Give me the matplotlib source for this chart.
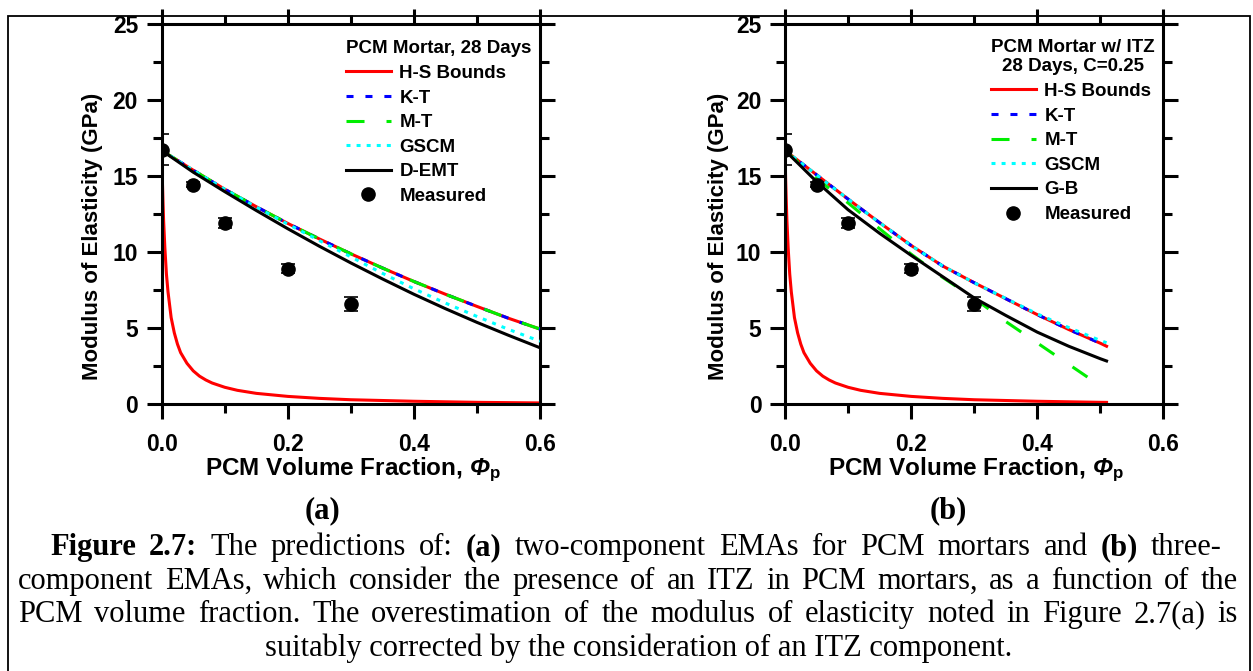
import matplotlib
matplotlib.use("Agg")
import matplotlib.pyplot as plt
from matplotlib.patches import Rectangle
from matplotlib.ticker import FormatStrFormatter
import matplotlib.transforms as mtransforms

# ---- data ----
phi = [0.0, 0.05, 0.10, 0.15, 0.20, 0.25, 0.30, 0.35, 0.40, 0.45, 0.50, 0.55, 0.60]
a_upper = [16.7, 15.4, 14.15, 13.0, 11.9, 10.88, 9.9, 8.97, 8.08, 7.24, 6.44, 5.66, 4.95]   # H-S upper, K-T, M-T
a_gscm = [16.7, 15.4, 14.15, 12.98, 11.85, 10.77, 9.7, 8.62, 7.6, 6.66, 5.78, 4.93, 4.15]
a_demt = [16.7, 15.27, 13.99, 12.75, 11.55, 10.40, 9.30, 8.25, 7.24, 6.29, 5.39, 4.54, 3.72]

phi_b = [0.0, 0.05, 0.10, 0.15, 0.20, 0.25, 0.30, 0.35, 0.40, 0.45, 0.50, 0.51]
b_upper = [16.7, 15.1, 13.5, 11.95, 10.45, 9.1, 8.0, 6.95, 5.9, 4.92, 4.02, 3.82]   # H-S upper, K-T
b_gscm = [16.7, 15.1, 13.5, 11.95, 10.45, 9.1, 8.0, 6.97, 5.95, 5.05, 4.2, 4.05]
b_gb = [16.7, 14.65, 12.8, 11.25, 9.8, 8.4, 7.0, 5.85, 4.75, 3.82, 3.0, 2.85]
phi_mt = [0.0, 0.05, 0.10, 0.15, 0.20, 0.25, 0.30, 0.35, 0.40, 0.45, 0.49]
b_mt = [16.7, 14.85, 13.25, 11.55, 9.88, 8.35, 6.97, 5.45, 4.04, 2.63, 1.5]

phi_hs = [0.0, 0.001, 0.002, 0.003, 0.005, 0.0075, 0.01, 0.015, 0.02, 0.025, 0.03, 0.04,
          0.05, 0.06, 0.07, 0.08, 0.10, 0.12, 0.15, 0.20, 0.25, 0.30, 0.40, 0.50, 0.51, 0.60]
hs_lower = [16.7, 14.83, 13.4, 12.12, 10.3, 8.57, 7.4, 5.7, 4.7, 3.96, 3.4, 2.7,
            2.2, 1.85, 1.6, 1.4, 1.12, 0.92, 0.72, 0.52, 0.39, 0.3, 0.2, 0.13, 0.125, 0.09]

meas_phi = [0.0, 0.05, 0.10, 0.20, 0.30]
meas_E = [16.75, 14.45, 11.95, 8.92, 6.62]
meas_err = [1.02, 0.15, 0.32, 0.3, 0.45]

caption = [
    [('Figure', 'bold'), ('2.7:', 'bold'), ('The', 'normal'), ('predictions', 'normal'),
     ('of:', 'normal'), ('(a)', 'bold'), ('two-component', 'normal'), ('EMAs', 'normal'),
     ('for', 'normal'), ('PCM', 'normal'), ('mortars', 'normal'), ('and', 'normal'),
     ('(b)', 'bold'), ('three-', 'normal')],
    'component EMAs, which consider the presence of an ITZ in PCM mortars, as a function of the',
    'PCM volume fraction. The overestimation of the modulus of elasticity noted in Figure 2.7(a) is',
    'suitably corrected by the consideration of an ITZ component.',
]

plt.rcParams['mathtext.fontset'] = 'custom'
plt.rcParams['mathtext.rm'] = 'Liberation Sans:bold:italic'
plt.rcParams['mathtext.it'] = 'Liberation Sans:bold:italic'
plt.rcParams['mathtext.sf'] = 'Liberation Sans:bold'
plt.rcParams['font.family'] = 'Liberation Sans'

W, H = 1253, 671
fig = plt.figure(figsize=(W / 100, H / 100), dpi=100)

ax_a = fig.add_axes([161.7 / W, 1 - 404.3 / H, 378.3 / W, 380 / H])
ax_b = fig.add_axes([785 / W, 1 - 404.3 / H, 378.3 / W, 380 / H])

LW = 2.2
KT = (0, (2.3, 3.9))
MT = (0, (5.9, 7.2))
GS = (0, (1.3, 2.0))

def style_axes(ax, ylab_x):
    ax.set_xlim(0, 0.6)
    ax.set_ylim(0, 25)
    ax.set_xticks([0.0, 0.2, 0.4, 0.6])
    ax.set_xticks([0.1, 0.3, 0.5], minor=True)
    ax.set_yticks([0, 5, 10, 15, 20, 25])
    ax.set_yticks([2.5, 7.5, 12.5, 17.5, 22.5], minor=True)
    ax.xaxis.set_major_formatter(FormatStrFormatter('%.1f'))
    ax.tick_params(which='both', direction='out', top=True, right=True, width=LW)
    ax.tick_params(which='major', length=11)
    ax.tick_params(which='minor', length=6.5)
    ax.tick_params(axis='x', which='major', pad=10, labelsize=16.5)
    ax.tick_params(axis='y', which='major', pad=6, labelsize=16.5)
    for lbl in ax.get_xticklabels() + ax.get_yticklabels():
        lbl.set_fontweight('bold')
    for sp in ax.spines.values():
        sp.set_linewidth(LW)
    ax.set_xlabel(r'PCM Volume Fraction, $\Phi_\mathsf{p}$', fontsize=17.5, fontweight='bold')
    ax.set_ylabel('Modulus of Elasticity (GPa)', fontsize=16, fontweight='bold')
    ax.xaxis.label.set_va('center')
    ax.yaxis.label.set_va('center')
    ax.xaxis.set_label_coords(0.505, -0.173)
    ax.yaxis.set_label_coords(ylab_x, 0.442)

def measured(ax):
    ax.errorbar(meas_phi, meas_E, yerr=meas_err, fmt='none', ecolor='black',
                elinewidth=1.2, capsize=4.8, capthick=1.2, zorder=7)
    ax.plot(meas_phi, meas_E, 'o', color='black', markersize=9.5, zorder=8,
            label='Measured')

leg_prop = {'family': 'Liberation Sans', 'weight': 'bold', 'size': 13.5}

# ---- (a) ----
ax = ax_a
ax.plot(phi_hs, hs_lower, color='red', lw=LW, zorder=2, label='H-S Bounds')
ax.plot(phi, a_upper, color='red', lw=LW, zorder=2)
ax.plot(phi, a_upper, color='blue', lw=LW, ls=KT, zorder=3, label='K-T')
ax.plot(phi, a_upper, color='#00ee00', lw=LW, ls=MT, zorder=4, label='M-T')
ax.plot(phi, a_gscm, color='cyan', lw=LW, ls=GS, zorder=5, label='GSCM')
ax.plot(phi, a_demt, color='black', lw=LW, zorder=6, label='D-EMT')
measured(ax)
style_axes(ax, -0.182)
ax.legend(loc='upper right', bbox_to_anchor=(0.977, 0.958), frameon=False,
          prop=leg_prop, title='PCM Mortar, 28 Days', title_fontproperties=leg_prop,
          handlelength=2.4, handletextpad=0.45, labelspacing=0.4, borderpad=0,
          borderaxespad=0, numpoints=1, alignment='left')

# ---- (b) ----
ax = ax_b
ax.plot(phi_hs[:-1], hs_lower[:-1], color='red', lw=LW, zorder=2, label='H-S Bounds')
ax.plot(phi_b, b_upper, color='red', lw=LW, zorder=2)
ax.plot(phi_b, b_upper, color='blue', lw=LW, ls=KT, zorder=3, label='K-T')
ax.plot(phi_mt, b_mt, color='#00ee00', lw=LW, ls=MT, zorder=4, label='M-T')
ax.plot(phi_b, b_gscm, color='cyan', lw=LW, ls=GS, zorder=5, label='GSCM')
ax.plot(phi_b, b_gb, color='black', lw=LW, zorder=6, label='G-B')
measured(ax)
style_axes(ax, -0.177)
leg = ax.legend(loc='upper right', bbox_to_anchor=(0.977, 0.962), frameon=False,
                prop=leg_prop, title='PCM Mortar w/ ITZ\n28 Days, C=0.25',
                title_fontproperties=leg_prop,
                handlelength=2.4, handletextpad=0.45, labelspacing=0.4, borderpad=0,
                borderaxespad=0, numpoints=1, alignment='left')
leg.get_title().set_multialignment('center')

# ---- panel letters, caption and frame ----
px = mtransforms.IdentityTransform()
serif = 'Liberation Serif'
CAP = 22
fig.text(322, H - 518, '(a)', transform=px, ha='center', va='baseline',
         family=serif, fontweight='bold', fontsize=CAP)
fig.text(948, H - 518, '(b)', transform=px, ha='center', va='baseline',
         family=serif, fontweight='bold', fontsize=CAP)

renderer = fig.canvas.get_renderer()

def justified(words, x0, x1, ybase):
    texts = [fig.text(0, H - ybase, s, transform=px, ha='left', va='baseline',
                      family=serif, fontweight=w, fontsize=CAP) for s, w in words]
    widths = [t.get_window_extent(renderer).width for t in texts]
    gap = (x1 - x0 - sum(widths)) / (len(texts) - 1)
    x = x0
    for t, wd in zip(texts, widths):
        t.set_x(x)
        x += wd + gap

justified(caption[0], 50, 1222, 555)
justified([(w, 'normal') for w in caption[1].split()], 18, 1238, 589)
justified([(w, 'normal') for w in caption[2].split()], 18, 1238, 622)
fig.text(639, H - 656, caption[3], transform=px, ha='center', va='baseline',
         family=serif, fontsize=CAP)

fig.patches.append(Rectangle((8 / W, -0.05), (1250 - 8) / W, 1.05 - 16 / H,
                             transform=fig.transFigure, fill=False, lw=1.3,
                             edgecolor='black'))

fig.savefig('out.png', dpi=100)
